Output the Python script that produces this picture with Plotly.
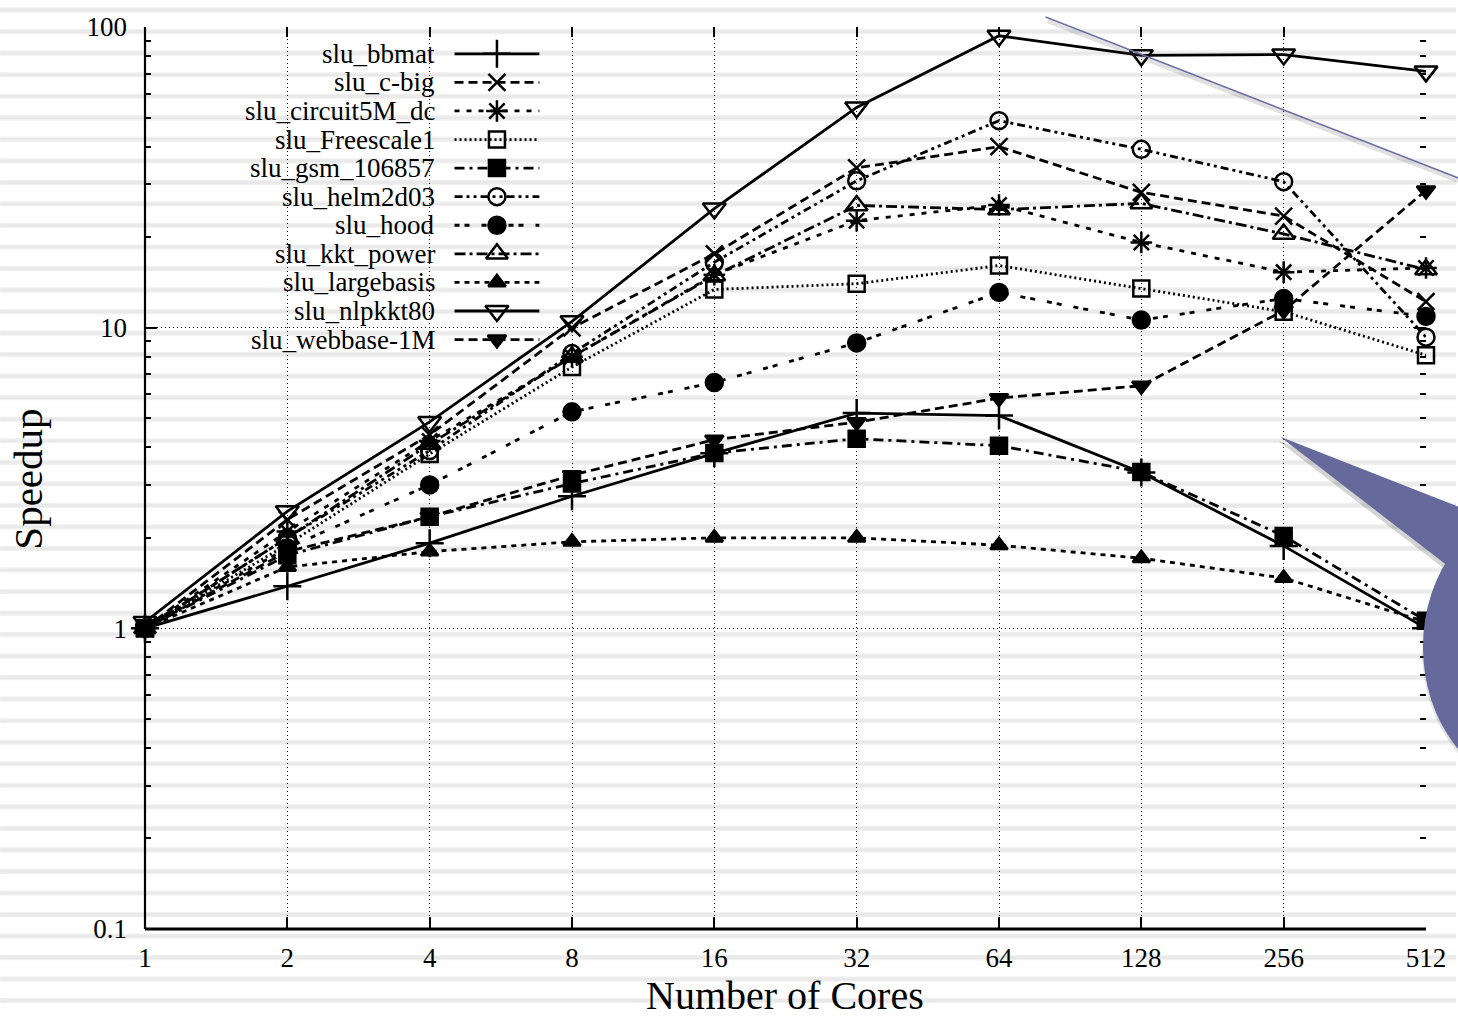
import plotly.graph_objects as go

# ---------------- data ----------------
cores = [1, 2, 4, 8, 16, 32, 64, 128, 256, 512]
core_labels = ["1", "2", "4", "8", "16", "32", "64", "128", "256", "512"]

slu_bbmat = [1.0, 1.38, 1.92, 2.75, 3.82, 5.2, 5.1, 3.3, 1.88, 1.0]
slu_c_big = [1.0, 2.3, 4.4, 9.98, 17.6, 34.0, 40.0, 28.2, 23.5, 12.2]
slu_circuit5M_dc = [1.0, 2.1, 4.2, 8.0, 15.0, 22.7, 25.6, 19.2, 15.3, 15.8]
slu_Freescale1 = [1.0, 1.9, 3.8, 7.4, 13.4, 14.0, 16.1, 13.5, 11.3, 8.1]
slu_gsm_106857 = [1.0, 1.75, 2.35, 3.03, 3.83, 4.27, 4.05, 3.31, 2.03, 1.06]
slu_helm2d03 = [1.0, 2.0, 3.9, 8.2, 16.5, 30.8, 48.8, 39.2, 30.6, 9.3]
slu_hood = [1.0, 1.85, 3.0, 5.25, 6.57, 8.9, 13.1, 10.6, 12.5, 10.9]
slu_kkt_power = [1.0, 2.0, 4.1, 8.0, 14.9, 25.5, 24.7, 25.9, 20.5, 15.6]
slu_largebasis = [1.0, 1.6, 1.8, 1.94, 2.0, 2.0, 1.89, 1.71, 1.47, 1.05]
slu_nlpkkt80 = [1.05, 2.45, 4.86, 10.5, 24.9, 54.0, 93.5, 80.5, 81.0, 71.2]
slu_webbase_1M = [1.0, 1.8, 2.35, 3.23, 4.24, 4.85, 5.83, 6.41, 11.4, 28.6]

y_major = [0.1, 1, 10, 100]
y_major_labels = ["0.1", "1", "10", "100"]
y_minor = [0.2, 0.3, 0.4, 0.5, 0.6, 0.7, 0.8, 0.9,
           2, 3, 4, 5, 6, 7, 8, 9,
           20, 30, 40, 50, 60, 70, 80, 90]

x_title = "Number of Cores"
y_title = "Speedup"

# ---------------- styles ----------------
series = [
    ("slu_bbmat", slu_bbmat, "solid", "cross-thin", 20),
    ("slu_c-big", slu_c_big, "9px,5px", "x-thin", 17),
    ("slu_circuit5M_dc", slu_circuit5M_dc, "5px,7px", "asterisk", 18),
    ("slu_Freescale1", slu_Freescale1, "2px,3px", "square-open", 16),
    ("slu_gsm_106857", slu_gsm_106857, "10px,5px,3px,5px", "square", 16),
    ("slu_helm2d03", slu_helm2d03, "8px,4px,3px,4px,3px,4px", "circle-open", 17),
    ("slu_hood", slu_hood, "5px,5px,5px,12px", "circle", 17),
    ("slu_kkt_power", slu_kkt_power, "11px,4px,3px,4px", "triangle-up-open", 19),
    ("slu_largebasis", slu_largebasis, "5px,5px", "triangle-up", 15),
    ("slu_nlpkkt80", slu_nlpkkt80, "solid", "triangle-down-open", 20),
    ("slu_webbase-1M", slu_webbase_1M, "9px,5px", "triangle-down", 16),
]

W, H = 1458, 1018
L, R, T, B = 145, 30, 20, 89
PW, PH = W - L - R, H - B - T
FONT = "Liberation Serif, Times New Roman, serif"
INK = "#000000"
CALLOUT = "#65699b"


def px(x):
    return (x - L) / PW


def py(y):
    return (H - B - y) / PH


fig = go.Figure()

for name, vals, dash, sym, size in series:
    fig.add_trace(go.Scatter(
        x=cores, y=vals, mode="lines+markers", name=name, showlegend=False,
        line=dict(color=INK, width=2.8, dash=dash),
        marker=dict(symbol=sym, size=size, color=INK,
                    line=dict(color=INK, width=2.5)),
        cliponaxis=False,
    ))

# ---------------- manual gnuplot-style legend (text left, sample right) ----
LEG_TEXT_X = 437
LEG_Y0 = 47
LEG_DY = 28.8
LEG_S0, LEG_S1 = 455, 540
shapes = []
annotations = []
for i, (name, vals, dash, sym, size) in enumerate(series):
    yy = LEG_Y0 + LEG_DY * i
    annotations.append(dict(
        x=px(LEG_TEXT_X), y=py(yy), xref="paper", yref="paper",
        text=name, showarrow=False, xanchor="right", yanchor="middle",
        font=dict(family=FONT, size=27, color=INK)))
    fig.add_trace(go.Scatter(
        x=[LEG_S0, (LEG_S0 + LEG_S1) / 2, LEG_S1], y=[yy, yy, yy],
        xaxis="x3", yaxis="y3", mode="lines", showlegend=False,
        hoverinfo="skip", line=dict(color=INK, width=2.8, dash=dash)))
    fig.add_trace(go.Scatter(
        x=[(LEG_S0 + LEG_S1) / 2], y=[yy],
        xaxis="x3", yaxis="y3", mode="markers", showlegend=False,
        hoverinfo="skip",
        marker=dict(symbol=sym, size=size, color=INK,
                    line=dict(color=INK, width=2.5))))

# ---------------- background stripes (slide template) ----------------
k = 0
while True:
    sy = 3 + 21.7 * k
    if sy > H:
        break
    shapes.append(dict(type="rect", xref="paper", yref="paper", layer="below",
                       x0=px(0), x1=px(W), y0=py(sy - 2.6), y1=py(sy + 2.6),
                       fillcolor="#f0f0f0", line=dict(width=0)))
    shapes.append(dict(type="rect", xref="paper", yref="paper", layer="below",
                       x0=px(0), x1=px(W), y0=py(sy - 1.3), y1=py(sy + 1.3),
                       fillcolor="#e9e9e9", line=dict(width=0)))
    k += 1

# axis lines (left + bottom)
shapes.append(dict(type="line", xref="paper", yref="paper", x0=0, x1=0,
                   y0=0, y1=1, line=dict(color=INK, width=2.2), layer="above"))
shapes.append(dict(type="line", xref="paper", yref="paper", x0=0, x1=1,
                   y0=0, y1=0, line=dict(color=INK, width=3), layer="above"))

# ---------------- decorative callout + line ----------------
shapes.append(dict(type="line", xref="paper", yref="paper",
                   x0=px(1049), y0=py(14), x1=px(1470), y1=py(179),
                   line=dict(color="rgba(90,90,90,0.18)", width=4), layer="above"))
shapes.append(dict(type="line", xref="paper", yref="paper",
                   x0=px(1047), y0=py(10), x1=px(1470), y1=py(176),
                   line=dict(color="#6b6fa3", width=1.6), layer="above"))


def path_from(points):
    return "M " + " L ".join(f"{px(a):.5f},{py(b):.5f}" for a, b in points) + " Z"


ptr = [(1282, 433), (1475, 509), (1475, 590), (1460, 571)]
ptr_sh = [(a - 2, b + 4) for a, b in ptr]
shapes.append(dict(type="path", xref="paper", yref="paper", path=path_from(ptr_sh),
                   fillcolor="rgba(60,60,60,0.22)", line=dict(width=0), layer="above"))
shapes.append(dict(type="circle", xref="paper", yref="paper",
                   x0=px(1424), x1=px(1644), y0=py(788), y1=py(508),
                   fillcolor="rgba(60,60,60,0.15)", line=dict(width=0), layer="above"))
shapes.append(dict(type="path", xref="paper", yref="paper", path=path_from(ptr),
                   fillcolor=CALLOUT, line=dict(width=0), layer="above"))
shapes.append(dict(type="circle", xref="paper", yref="paper",
                   x0=px(1425), x1=px(1645), y0=py(785), y1=py(505),
                   fillcolor=CALLOUT, line=dict(width=0), layer="above"))

# axis titles
annotations.append(dict(x=px(786), y=py(996), xref="paper", yref="paper",
                        text=x_title, showarrow=False, xanchor="center",
                        yanchor="middle", font=dict(family=FONT, size=40, color=INK)))
annotations.append(dict(x=px(28), y=py(476), xref="paper", yref="paper",
                        text=y_title, showarrow=False, xanchor="center",
                        yanchor="middle", textangle=-90,
                        font=dict(family=FONT, size=41, color=INK)))

fig.add_trace(go.Scatter(x=[1], y=[1], xaxis="x2", yaxis="y2", mode="markers",
                         marker=dict(opacity=0), showlegend=False, hoverinfo="skip"))

tickfont = dict(family=FONT, size=27, color=INK)
fig.update_layout(
    width=W, height=H, autosize=False,
    margin=dict(l=L, r=R, t=T, b=B, pad=0),
    paper_bgcolor="white", plot_bgcolor="rgba(0,0,0,0)",
    showlegend=False,
    shapes=shapes, annotations=annotations,
    xaxis=dict(type="log", range=[0, 2.70927], tickvals=cores, ticktext=core_labels,
               ticks="inside", ticklen=12, tickwidth=1.5, tickcolor=INK,
               showline=False, showgrid=True, gridcolor=INK, gridwidth=1,
               griddash="1px,3px", zeroline=False, tickfont=tickfont,
               ticklabelstandoff=10),
    yaxis=dict(type="log", range=[-1.0001, 2.0001], tickvals=y_major,
               ticktext=y_major_labels,
               ticks="inside", ticklen=12, tickwidth=1.5, tickcolor=INK,
               minor=dict(tickvals=y_minor, ticks="inside", ticklen=6,
                          tickwidth=1.5, tickcolor=INK, showgrid=False),
               showline=False, showgrid=True, gridcolor=INK, gridwidth=1,
               griddash="1px,3px", zeroline=False, tickfont=tickfont,
               ticklabelstandoff=17),
    xaxis2=dict(type="log", range=[0, 2.70927], overlaying="x", side="top",
                anchor="y2", tickvals=cores, ticks="inside", ticklen=10,
                tickwidth=1.5, tickcolor=INK, showticklabels=False,
                showgrid=False, showline=False, zeroline=False),
    yaxis2=dict(type="log", range=[-1.0001, 2.0001], overlaying="y", side="right",
                anchor="x2", tickvals=y_major, ticks="inside", ticklen=12,
                tickwidth=1.5, tickcolor=INK, showticklabels=False,
                minor=dict(tickvals=y_minor, ticks="inside", ticklen=6,
                           tickwidth=1.5, tickcolor=INK, showgrid=False),
                showgrid=False, showline=False, zeroline=False),
    xaxis3=dict(range=[L, W - R], overlaying="x", anchor="y3", visible=False,
                showgrid=False, zeroline=False),
    yaxis3=dict(range=[H - B, T], overlaying="y", anchor="x3", visible=False,
                showgrid=False, zeroline=False),
)

fig.write_html("out.html")
